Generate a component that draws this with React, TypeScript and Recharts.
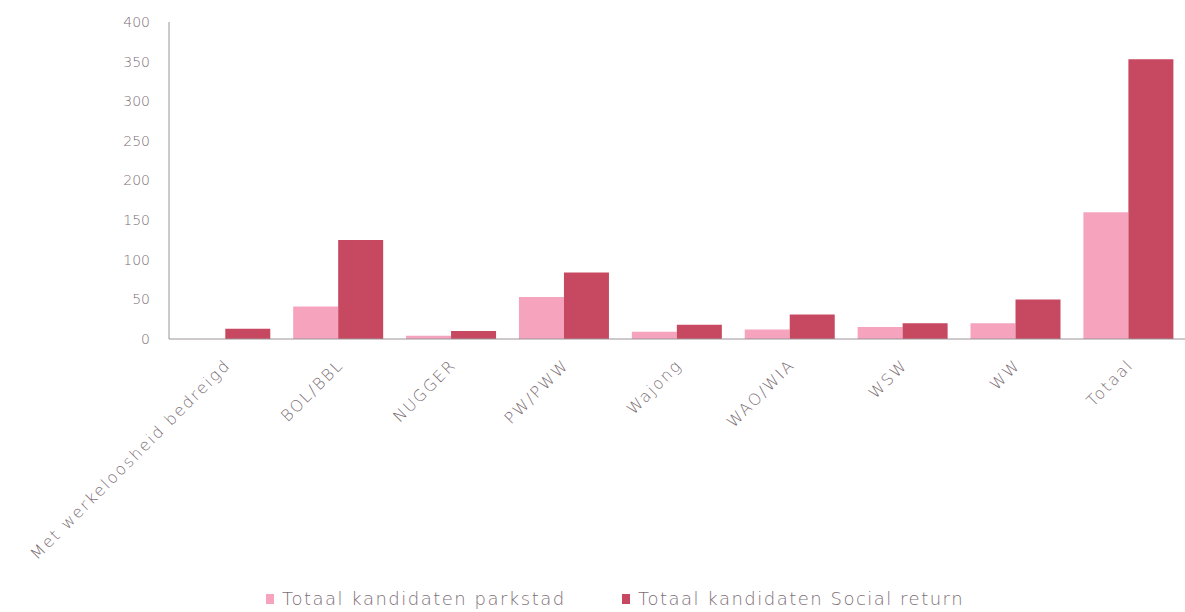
import React from "react";
import { BarChart, Bar, XAxis, YAxis, Legend } from "recharts";

const categories = [
  "Met werkeloosheid bedreigd",
  "BOL/BBL",
  "NUGGER",
  "PW/PWW",
  "Wajong",
  "WAO/WIA",
  "WSW",
  "WW",
  "Totaal",
];
const parkstad = [0, 41, 4, 53, 9, 12, 15, 20, 160];
const socialReturn = [13, 125, 10, 84, 18, 31, 20, 50, 353];
const yTicks = [0, 50, 100, 150, 200, 250, 300, 350, 400];
const seriesNames = ["Totaal kandidaten parkstad", "Totaal kandidaten Social return"];

const PINK = "#f6a3bd";
const RED = "#c74961";
const TEXT = "#7d6f76";
const AXIS = "#9a9298";
const FONT = "'DejaVu Sans', sans-serif";

const data = categories.map((c, i) => ({
  name: c,
  parkstad: parkstad[i],
  social: socialReturn[i],
}));

const XTick = (props: any) => {
  const { x, y, payload } = props;
  const ax = x + 6;
  const ay = y + 27;
  return (
    <text
      x={ax}
      y={ay}
      transform={`rotate(-45, ${ax}, ${ay})`}
      textAnchor="end"
      fill={TEXT}
      fontSize={16}
      fontWeight={300}
      letterSpacing={1.9}
      fontFamily={FONT}
    >
      {payload.value}
    </text>
  );
};

const LegendContent = () => {
  const colors = [PINK, RED];
  return (
    <div
      style={{
        display: "flex",
        justifyContent: "flex-start",
        paddingLeft: 266,
        fontFamily: FONT,
        fontSize: 18,
        fontWeight: 300,
        color: TEXT,
        letterSpacing: 1.5,
      }}
    >
      {seriesNames.map((n, i) => (
        <div
          key={n}
          style={{ display: "flex", alignItems: "center", width: i === 0 ? 356 : "auto" }}
        >
          <span
            style={{
              display: "inline-block",
              width: 8,
              height: 10,
              background: colors[i],
              marginRight: 8,
            }}
          />
          <span>{n}</span>
        </div>
      ))}
    </div>
  );
};

export default function App() {
  return (
    <div style={{ position: "absolute", left: 0, top: 0, width: 1185, height: 612, background: "#fff" }}>
      <BarChart
        width={1185}
        height={612}
        data={data}
        margin={{ top: 22, right: 0, left: 0, bottom: 0 }}
        barCategoryGap="10%"
        barGap={0}
      >
        <YAxis
          width={169}
          domain={[0, 400]}
          ticks={yTicks}
          interval={0}
          tickLine={false}
          tickSize={0}
          tickMargin={19}
          axisLine={{ stroke: AXIS, strokeWidth: 1 }}
          tick={{ fill: TEXT, fontSize: 14, fontWeight: 300, fontFamily: FONT }}
        />
        <XAxis
          dataKey="name"
          height={249}
          interval={0}
          tickLine={false}
          tickSize={0}
          tickMargin={0}
          axisLine={{ stroke: AXIS, strokeWidth: 1 }}
          tick={<XTick />}
        />
        <Legend
          verticalAlign="bottom"
          height={24}
          content={<LegendContent />}
        />
        <Bar dataKey="parkstad" name={seriesNames[0]} fill={PINK} isAnimationActive={false} />
        <Bar dataKey="social" name={seriesNames[1]} fill={RED} isAnimationActive={false} />
      </BarChart>
    </div>
  );
}
